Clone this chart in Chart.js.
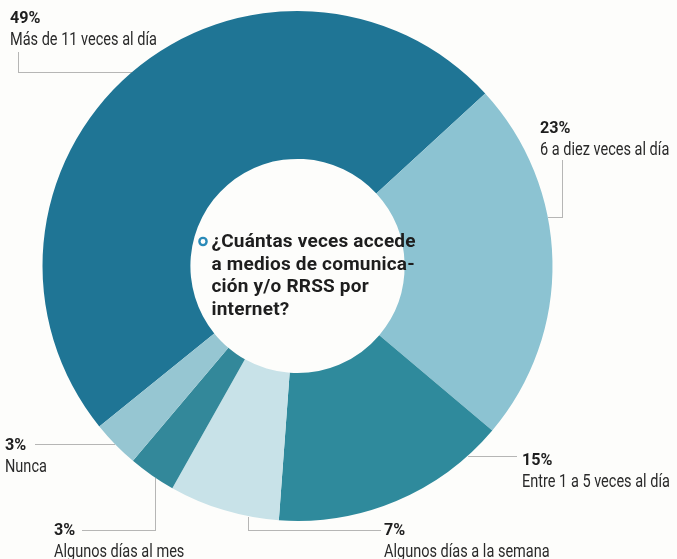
<!DOCTYPE html>
<html>
<head>
<meta charset="utf-8">
<script src="https://cdn.jsdelivr.net/npm/chart.js@4.4.0/dist/chart.umd.min.js"></script>
<style>
  html, body { margin: 0; padding: 0; background: #fdfdfb; }
  #wrap { position: relative; width: 677px; height: 559px; }
</style>
</head>
<body>
<div id="wrap"><canvas id="myChart" width="677" height="559"></canvas></div>
<script>
// chart values
const categories = ['Más de 11 veces al día', '6 a diez veces al día', 'Entre 1 a 5 veces al día',
                    'Algunos días a la semana', 'Algunos días al mes', 'Nunca'];
const shares = [49, 23, 15, 7, 3, 3];
const sliceColors = ['#1f7595', '#8cc3d2', '#2f8a9c', '#c8e2e8', '#33889a', '#96c6d2'];
const questionLines = ['¿Cuántas veces accede', 'a medios de comunica-', 'ción y/o RRSS por', 'internet?'];

// label placement: text anchor + leader path (last point snaps to the ring edge)
// snap 'h' = run horizontally at y until the ring, 'v' = run vertically at x
const labelLayout = [
  { x: 10,  y: 23,  path: [[18, 52], [18, 72]],   snap: 'h', side: -1 },
  { x: 540, y: 133, path: [[562, 160], [562, 217]], snap: 'h', side: 1 },
  { x: 522, y: 465, path: [[516, 456]],            snap: 'h', side: 1 },
  { x: 384, y: 535, path: [[380, 530], [248, 530]], snap: 'v', side: 1 },
  { x: 54,  y: 535, path: [[82, 530], [155, 530]],  snap: 'v', side: 1 },
  { x: 5,   y: 450, path: [[35, 444]],             snap: 'h', side: -1 }
];

// condensed look: squeeze Roboto horizontally
function narrowText(ctx, text, x, y, squeeze) {
  ctx.save();
  ctx.translate(x, y);
  ctx.scale(squeeze, 1);
  ctx.fillText(text, 0, 0);
  ctx.restore();
}

const calloutPlugin = {
  id: 'callouts',
  afterDraw(chart) {
    const ctx = chart.ctx;
    const arc = chart.getDatasetMeta(0).data[0];
    const cx = arc.x, cy = arc.y, r = arc.outerRadius;

    ctx.save();
    // leader lines
    ctx.strokeStyle = '#6e6e6e';
    ctx.lineWidth = 1;
    ctx.setLineDash([1, 1]);
    labelLayout.forEach((l) => {
      const pts = l.path;
      const last = pts[pts.length - 1];
      let end;
      if (l.snap === 'h') {
        const dx = Math.sqrt(r * r - (last[1] - cy) * (last[1] - cy));
        end = [cx + l.side * dx, last[1]];
      } else {
        const dy = Math.sqrt(r * r - (last[0] - cx) * (last[0] - cx));
        end = [last[0], cy + l.side * dy];
      }
      ctx.beginPath();
      ctx.moveTo(pts[0][0] + 0.5, pts[0][1] + 0.5);
      for (let i = 1; i < pts.length; i++) ctx.lineTo(pts[i][0] + 0.5, pts[i][1] + 0.5);
      ctx.lineTo(end[0] + 0.5, end[1] + 0.5);
      ctx.stroke();
    });
    ctx.setLineDash([]);

    // labels
    ctx.textBaseline = 'alphabetic';
    ctx.textAlign = 'left';
    labelLayout.forEach((l, i) => {
      ctx.fillStyle = '#1e1e1e';
      ctx.font = 'bold 17px Roboto, sans-serif';
      narrowText(ctx, shares[i] + '%', l.x, l.y, 0.95);
      ctx.fillStyle = '#2a2a2a';
      ctx.font = '17.5px Roboto, sans-serif';
      narrowText(ctx, categories[i], l.x, l.y + 22, 0.83);
    });

    // question in the hole
    ctx.fillStyle = '#1e1e1e';
    ctx.font = 'bold 19px Roboto, sans-serif';
    ctx.letterSpacing = '0.2px';
    questionLines.forEach((t, i) => {
      ctx.fillText(t, cx - 86, 247 + i * 22.5);
    });
    ctx.letterSpacing = '0px';
    ctx.beginPath();
    ctx.arc(cx - 94.5, 241.5, 3.6, 0, Math.PI * 2);
    ctx.strokeStyle = '#2a8ab8';
    ctx.lineWidth = 2.4;
    ctx.stroke();
    ctx.restore();
  }
};

new Chart(document.getElementById('myChart'), {
  type: 'doughnut',
  data: {
    labels: categories,
    datasets: [{
      data: shares,
      backgroundColor: sliceColors,
      borderWidth: 0
    }]
  },
  options: {
    responsive: false,
    animation: false,
    rotation: -129,
    cutout: '42%',
    layout: { padding: { left: 42.5, right: 124.5, top: 11, bottom: 38 } },
    plugins: {
      legend: { display: false },
      tooltip: { enabled: false }
    }
  },
  plugins: [calloutPlugin]
});
</script>
</body>
</html>
